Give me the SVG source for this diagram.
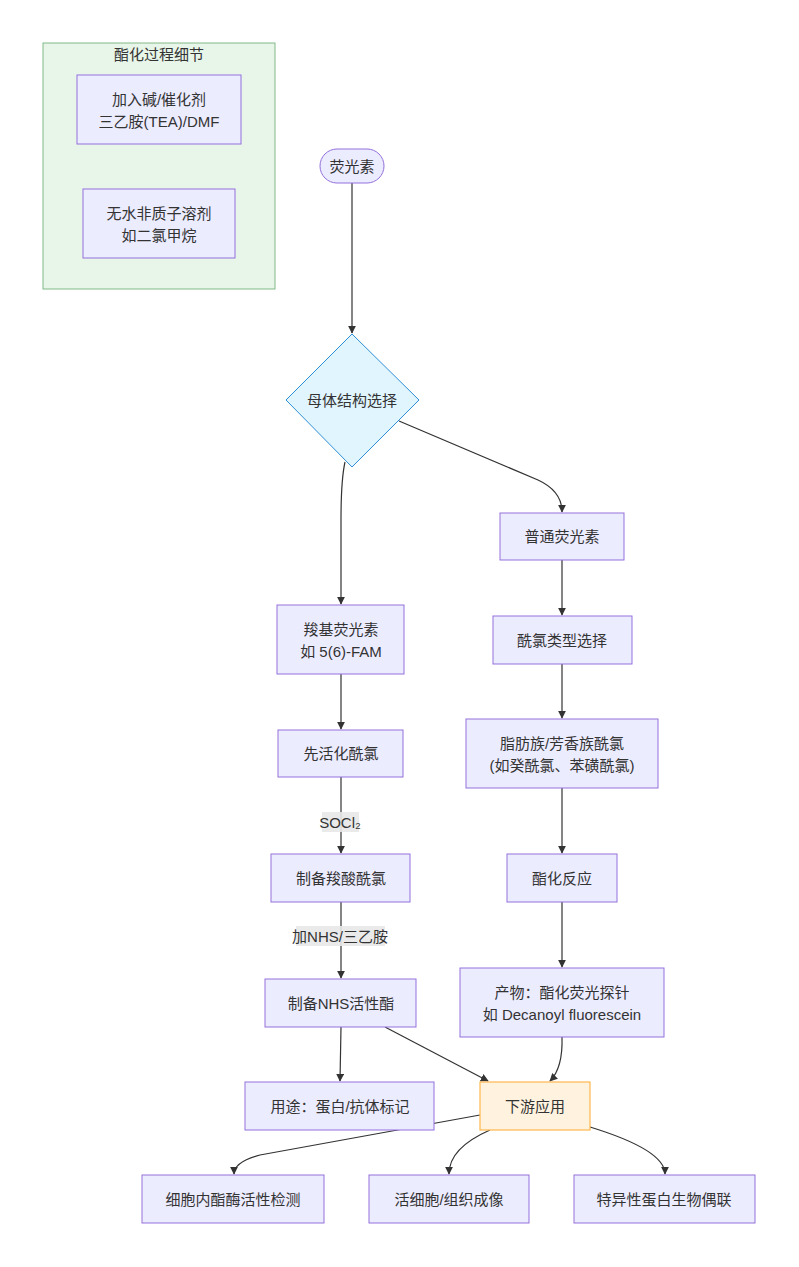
<svg xmlns="http://www.w3.org/2000/svg" width="799" height="1267" viewBox="0 0 799 1267">
<defs>
<marker id="arr" viewBox="0 0 10 10" refX="9" refY="5" markerWidth="8" markerHeight="8" markerUnits="userSpaceOnUse" orient="auto">
<path d="M0,0 L10,5 L0,10 z" fill="#333"/>
</marker>
</defs>
<style>
text{font-family:"Liberation Sans","Noto Sans CJK SC",sans-serif;font-size:15px;fill:#333;text-anchor:middle;dominant-baseline:central}
.n{fill:#ECECFF;stroke:#9370DB;stroke-width:1}
.e{fill:none;stroke:#333;stroke-width:1.2;marker-end:url(#arr)}
.lb{fill:#e8e8e8;opacity:0.9}
</style>
<rect width="799" height="1267" fill="#fff"/>
<g id="cluster">
<rect x="43" y="43" width="232" height="246" fill="#e8f5e9" stroke="#81b987" stroke-width="1"/>
<text x="159" y="54">酯化过程细节</text>
</g>
<g id="connectors">
<path class="e" d="M352,183 L352,333"/>
<path class="e" d="M399,421 L538,480 Q562,491 562,512"/>
<path class="e" d="M345,462 Q341,480 341,520 L341,604"/>
<path class="e" d="M562,560 L562,615"/>
<path class="e" d="M562,664 L562,718"/>
<path class="e" d="M562,788 L562,853"/>
<path class="e" d="M562,902 L562,967"/>
<path class="e" d="M341,674 L341,729"/>
<path class="e" d="M341,777 L341,853"/>
<path class="e" d="M341,902 L341,978"/>
<path class="e" d="M341,1027 L340,1081"/>
<path class="e" d="M385,1027 L488,1081"/>
<path class="e" d="M562,1037 Q563,1068 550,1081"/>
<path class="e" d="M480,1115 L260,1155 Q234,1162 234,1174"/>
<path class="e" d="M490,1130 Q449,1148 449,1174"/>
<path class="e" d="M590,1127 Q665,1150 665,1174"/>
<rect class="lb" x="322" y="812" width="37" height="20"/>
<text x="340" y="822">SOCl₂</text>
<rect class="lb" x="296" y="926" width="89" height="20"/>
<text x="340" y="936">加NHS/三乙胺</text>
</g>
<g id="n_base">
<rect class="n" x="77" y="75" width="164" height="69"/>
<text x="159" y="99">加入碱/催化剂</text>
<text x="159" y="121">三乙胺(TEA)/DMF</text>
</g>
<g id="n_solvent">
<rect class="n" x="83" y="189" width="152" height="69"/>
<text x="159" y="213">无水非质子溶剂</text>
<text x="159" y="235">如二氯甲烷</text>
</g>
<g id="n_start">
<rect class="n" x="320" y="149" width="64" height="34" rx="17"/>
<text x="352" y="166">荧光素</text>
</g>
<g id="n_choice">
<polygon points="352,334 419,400 352,467 286,400" fill="#e1f5fe" stroke="#2f8fd6" stroke-width="1"/>
<text x="352" y="400">母体结构选择</text>
</g>
<g id="n_normal">
<rect class="n" x="500" y="513" width="124" height="47"/>
<text x="562" y="536">普通荧光素</text>
</g>
<g id="n_carboxy">
<rect class="n" x="277" y="605" width="127" height="69"/>
<text x="341" y="629">羧基荧光素</text>
<text x="341" y="651">如 5(6)-FAM</text>
</g>
<g id="n_acyltype">
<rect class="n" x="493" y="616" width="139" height="48"/>
<text x="562" y="640">酰氯类型选择</text>
</g>
<g id="n_activate">
<rect class="n" x="278" y="730" width="125" height="47"/>
<text x="341" y="753">先活化酰氯</text>
</g>
<g id="n_aliph">
<rect class="n" x="466" y="719" width="192" height="69"/>
<text x="562" y="743">脂肪族/芳香族酰氯</text>
<text x="562" y="765">(如癸酰氯、苯磺酰氯)</text>
</g>
<g id="n_acidcl">
<rect class="n" x="271" y="854" width="139" height="48"/>
<text x="341" y="878">制备羧酸酰氯</text>
</g>
<g id="n_ester">
<rect class="n" x="507" y="854" width="110" height="48"/>
<text x="562" y="878">酯化反应</text>
</g>
<g id="n_nhs">
<rect class="n" x="265" y="979" width="151" height="48"/>
<text x="341" y="1003">制备NHS活性酯</text>
</g>
<g id="n_product">
<rect class="n" x="460" y="968" width="204" height="69"/>
<text x="562" y="992">产物：酯化荧光探针</text>
<text x="562" y="1014">如 Decanoyl fluorescein</text>
</g>
<g id="n_use">
<rect class="n" x="245" y="1082" width="189" height="48"/>
<text x="340" y="1106">用途：蛋白/抗体标记</text>
</g>
<g id="n_down">
<rect x="480" y="1082" width="110" height="48" fill="#fff3e0" stroke="#ffb74d" stroke-width="1.2"/>
<text x="535" y="1106">下游应用</text>
</g>
<g id="n_intra">
<rect class="n" x="142" y="1175" width="182" height="48"/>
<text x="233" y="1199">细胞内酯酶活性检测</text>
</g>
<g id="n_live">
<rect class="n" x="369" y="1175" width="160" height="48"/>
<text x="449" y="1199">活细胞/组织成像</text>
</g>
<g id="n_bio">
<rect class="n" x="574" y="1175" width="181" height="48"/>
<text x="664" y="1199">特异性蛋白生物偶联</text>
</g>
</svg>
